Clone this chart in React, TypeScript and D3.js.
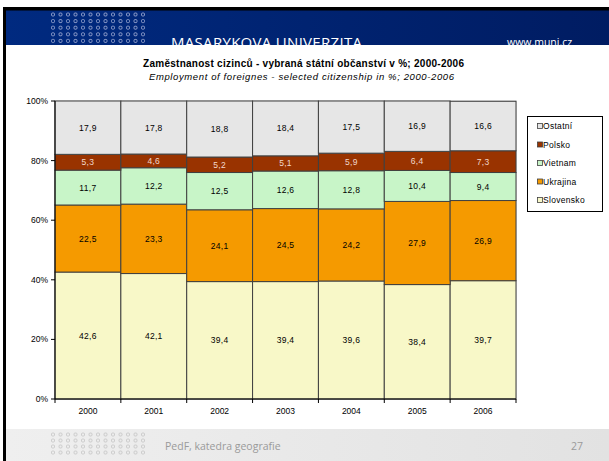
import React from "react";
import * as d3 from "d3";

const years = ["2000", "2001", "2002", "2003", "2004", "2005", "2006"];
const seriesNames = ["Slovensko", "Ukrajina", "Vietnam", "Polsko", "Ostatní"];
const slovensko = [42.6, 42.1, 39.4, 39.4, 39.6, 38.4, 39.7];
const ukrajina = [22.5, 23.3, 24.1, 24.5, 24.2, 27.9, 26.9];
const vietnam = [11.7, 12.2, 12.5, 12.6, 12.8, 10.4, 9.4];
const polsko = [5.3, 4.6, 5.2, 5.1, 5.9, 6.4, 7.3];
const ostatni = [17.9, 17.8, 18.8, 18.4, 17.5, 16.9, 16.6];
const yTicks = [0, 20, 40, 60, 80, 100];
const legendOrder = ["Ostatní", "Polsko", "Vietnam", "Ukrajina", "Slovensko"];

const colors: Record<string, string> = {
  Slovensko: "#f8f8c8",
  Ukrajina: "#f59a00",
  Vietnam: "#c8f5c8",
  Polsko: "#993300",
  Ostatní: "#e6e6e6",
};

const FONT = "'Liberation Sans', Arial, sans-serif";
const SLIDE_FONT = "'Open Sans', 'DejaVu Sans', sans-serif";

export default function App() {
  const W = 609, H = 461;
  const plot = { l: 55, r: 516, t: 101, b: 399 };
  const x = d3.scaleBand<string>().domain(years).range([plot.l, plot.r]).padding(0);
  const y = d3.scaleLinear().domain([0, 100]).range([plot.b, plot.t]);

  const table = years.map((yr, i) => ({
    year: yr,
    Slovensko: slovensko[i],
    Ukrajina: ukrajina[i],
    Vietnam: vietnam[i],
    Polsko: polsko[i],
    Ostatní: ostatni[i],
  }));
  const stack = d3.stack<any>().keys(seriesNames)(table);

  // decorative dot grids
  const headerDots: JSX.Element[] = [];
  for (let r = 0; r < 5; r++)
    for (let c = 0; c < 13; c++)
      headerDots.push(
        <rect key={`h${r}-${c}`} x={51.5 + c * 7.5} y={13 + r * 6.6} width={3} height={3} rx={1}
          fill="none" stroke="#aab4d8" strokeWidth={0.8} />
      );
  const footDots: JSX.Element[] = [];
  for (let r = 0; r < 4; r++)
    for (let c = 0; c < 13; c++)
      footDots.push(
        <rect key={`f${r}-${c}`} x={51.5 + c * 7.5} y={433 + r * 6} width={3} height={3} rx={1}
          fill="none" stroke="#c4c4c4" strokeWidth={0.8} />
      );

  return (
    <svg width={W} height={H} style={{ position: "absolute", left: 0, top: 0, fontFamily: FONT }}>
      <defs>
        <linearGradient id="hdr" x1="0" x2="1" y1="0" y2="0">
          <stop offset="0" stopColor="#002a80" />
          <stop offset="1" stopColor="#001c62" />
        </linearGradient>
        <linearGradient id="ftr" x1="0" x2="1" y1="0" y2="0">
          <stop offset="0" stopColor="#efefef" />
          <stop offset="1" stopColor="#e2e2e2" />
        </linearGradient>
        <clipPath id="hclip"><rect x={0} y={0} width={W} height={45} /></clipPath>
      </defs>
      <rect x={0} y={0} width={W} height={H} fill="#ffffff" />
      {/* header */}
      <rect x={3} y={10} width={W - 3} height={35} fill="url(#hdr)" />
      <rect x={3} y={7} width={W - 3} height={3.5} fill="#000" />
      <rect x={3} y={7} width={3} height={H - 7} fill="#000" />
      <g clipPath="url(#hclip)">{headerDots}</g>
      <text x={171} y={48} fill="#ffffff" fontSize={15} clipPath="url(#hclip)"
        style={{ fontFamily: SLIDE_FONT, letterSpacing: "0.3px" }}>
        MASARYKOVA UNIVERZITA
      </text>
      <text x={507} y={46} fill="#ffffff" fontSize={10.5} clipPath="url(#hclip)"
        style={{ fontFamily: SLIDE_FONT }}>www.muni.cz</text>

      {/* footer */}
      <rect x={6} y={429} width={W - 6} height={H - 429} fill="url(#ftr)" />
      {footDots}
      <text x={165} y={450} fill="#9a9a9a" fontSize={10.5} style={{ fontFamily: SLIDE_FONT }}>
        PedF, katedra geografie
      </text>
      <text x={577} y={450} fill="#9a9a9a" fontSize={10.5} textAnchor="middle"
        style={{ fontFamily: SLIDE_FONT }}>27</text>

      {/* titles */}
      <text x={303.5} y={67} textAnchor="middle" fontSize={10} fontWeight="bold" fill="#000"
        textLength={321} lengthAdjust="spacing">
        Zaměstnanost cizinců - vybraná státní občanství v %; 2000-2006
      </text>
      <text x={301.5} y={80} textAnchor="middle" fontSize={9.5} fontStyle="italic" fill="#000"
        textLength={305} lengthAdjust="spacing">
        Employment of foreignes - selected citizenship in %; 2000-2006
      </text>

      {/* plot border */}
      <rect x={plot.l} y={plot.t} width={plot.r - plot.l} height={plot.b - plot.t}
        fill="none" stroke="#c0c0c0" strokeWidth={1} />

      {/* bars */}
      {stack.map((s) => (
        <g key={s.key}>
          {s.map((d, i) => {
            const x0 = x(years[i])!;
            const y0 = y(d[1]);
            const h = y(d[0]) - y(d[1]);
            return (
              <rect key={i} x={x0} y={y0} width={x.bandwidth()} height={h}
                fill={colors[s.key]} stroke="#404040" strokeWidth={1} />
            );
          })}
        </g>
      ))}
      {stack.map((s) => (
        <g key={"l" + s.key}>
          {s.map((d, i) => {
            const cx = x(years[i])! + x.bandwidth() / 2;
            const cy = (y(d[0]) + y(d[1])) / 2;
            const v = (d[1] - d[0]).toFixed(1).replace(".", ",");
            return (
              <text key={i} x={cx} y={cy + 3} textAnchor="middle" fontSize={8.5}
                style={{ letterSpacing: "0.3px" }}
                fill={s.key === "Polsko" ? "#f2d8cc" : "#000"}>{v}</text>
            );
          })}
        </g>
      ))}

      {/* axes */}
      <line x1={plot.l} x2={plot.l} y1={plot.t} y2={plot.b} stroke="#000" strokeWidth={1} />
      <line x1={plot.l} x2={plot.r} y1={plot.b} y2={plot.b} stroke="#000" strokeWidth={1} />
      {yTicks.map((t) => (
        <g key={t}>
          <line x1={plot.l - 4} x2={plot.l} y1={y(t)} y2={y(t)} stroke="#000" />
          <text x={plot.l - 7} y={y(t) + 3} textAnchor="end" fontSize={8.5} fill="#000">{t}%</text>
        </g>
      ))}
      {years.map((yr) => (
        <g key={yr}>
          <line x1={x(yr)!} x2={x(yr)!} y1={plot.b} y2={plot.b + 4} stroke="#000" />
          <text x={x(yr)! + x.bandwidth() / 2} y={plot.b + 15} textAnchor="middle" fontSize={8.5} fill="#000">{yr}</text>
        </g>
      ))}
      <line x1={plot.r} x2={plot.r} y1={plot.b} y2={plot.b + 4} stroke="#000" />

      {/* legend */}
      <rect x={527.5} y={116.5} width={75} height={95} fill="#fff" stroke="#000" strokeWidth={1} />
      {legendOrder.map((k, i) => {
        const ly = 126 + i * 18.5;
        return (
          <g key={k}>
            <rect x={537.5} y={ly - 2.5} width={5} height={5} fill={colors[k]} stroke="#404040" strokeWidth={0.8} />
            <text x={543} y={ly + 3} fontSize={8.5} fill="#000" style={{ letterSpacing: "0.3px" }}>{k}</text>
          </g>
        );
      })}
    </svg>
  );
}
